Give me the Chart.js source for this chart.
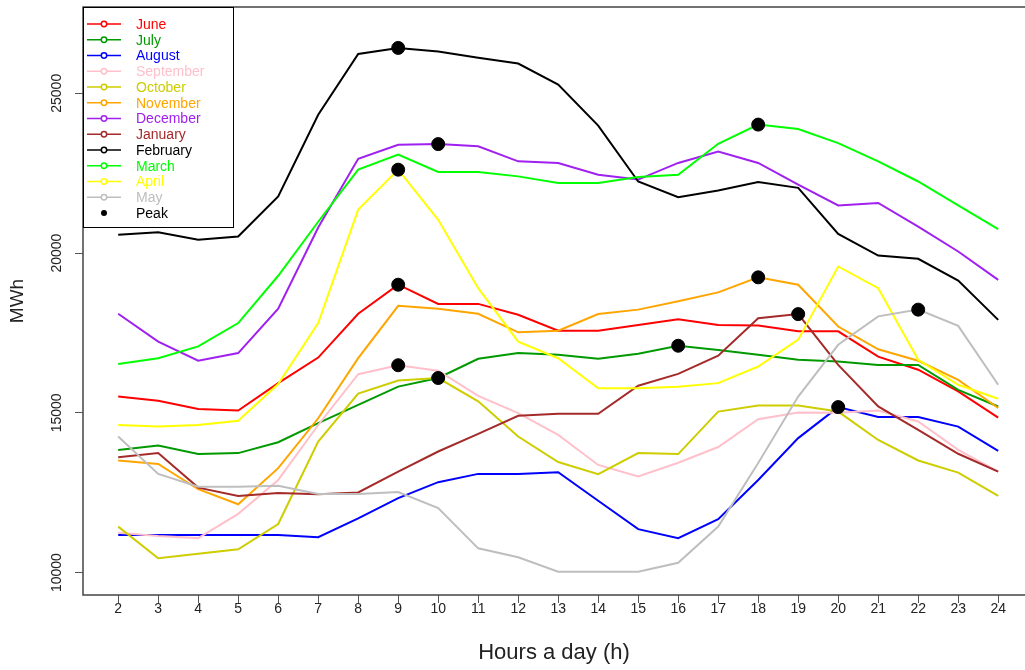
<!DOCTYPE html>
<html>
<head>
<meta charset="utf-8">
<script src="https://cdn.jsdelivr.net/npm/chart.js@4"></script>
<style>
  html, body { margin: 0; padding: 0; background: #fff; }
  #wrap { width: 1025px; height: 670px; }
</style>
</head>
<body>
<div id="wrap"><canvas id="chart"></canvas></div>
<script>
// data (hours 2..24)
const hours = [2, 3, 4, 5, 6, 7, 8, 9, 10, 11, 12, 13, 14, 15, 16, 17, 18, 19, 20, 21, 22, 23, 24];
const yTicks = [10000, 15000, 20000, 25000];

const june = [15510, 15380, 15120, 15070, 15930, 16730, 18100, 19010, 18410, 18410, 18070, 17570, 17570, 17750, 17930, 17750, 17730, 17550, 17550, 16760, 16350, 15670, 14850];
const july = [13840, 13980, 13710, 13740, 14080, 14680, 15250, 15820, 16090, 16690, 16870, 16820, 16690, 16850, 17100, 16970, 16820, 16660, 16610, 16500, 16500, 15720, 15200];
const august = [11180, 11180, 11180, 11180, 11180, 11110, 11700, 12330, 12830, 13090, 13090, 13140, 12250, 11360, 11080, 11670, 12900, 14210, 15180, 14870, 14870, 14570, 13810];
const september = [11250, 11150, 11080, 11840, 12900, 14620, 16210, 16490, 16320, 15530, 14990, 14310, 13370, 13010, 13440, 13930, 14800, 15010, 15000, 15070, 14730, 13840, 13160];
const october = [11440, 10450, 10590, 10730, 11520, 14100, 15600, 16010, 16090, 15360, 14260, 13460, 13080, 13740, 13710, 15040, 15230, 15230, 15040, 14150, 13510, 13130, 12400];
const november = [13510, 13400, 12610, 12140, 13270, 14830, 16710, 18350, 18260, 18100, 17520, 17570, 18090, 18230, 18490, 18770, 19240, 19010, 17700, 16990, 16630, 16030, 15150];
const december = [18100, 17230, 16630, 16870, 18260, 20800, 22950, 23390, 23410, 23340, 22870, 22820, 22450, 22300, 22820, 23180, 22820, 22140, 21490, 21570, 20830, 20050, 19160];
const january = [13610, 13740, 12660, 12400, 12490, 12450, 12510, 13160, 13790, 14340, 14910, 14970, 14970, 15850, 16220, 16790, 17960, 18090, 16500, 15200, 14470, 13720, 13160];
const february = [20570, 20650, 20420, 20520, 21770, 24330, 26230, 26420, 26310, 26110, 25930, 25270, 23990, 22240, 21750, 21960, 22220, 22040, 20600, 19920, 19820, 19140, 17910];
const march = [16530, 16710, 17080, 17810, 19290, 20980, 22610, 23080, 22540, 22540, 22400, 22190, 22190, 22380, 22450, 23420, 24020, 23880, 23440, 22870, 22240, 21490, 20750];
const april = [14620, 14570, 14620, 14750, 15900, 17810, 21360, 22610, 21040, 18900, 17230, 16710, 15770, 15770, 15820, 15930, 16450, 17290, 19580, 18900, 16660, 15880, 15440];
const may = [14260, 13090, 12690, 12690, 12720, 12460, 12460, 12520, 12020, 10760, 10480, 10030, 10030, 10030, 10310, 11440, 13430, 15510, 17130, 18020, 18230, 17720, 15880];

const months = ["June", "July", "August", "September", "October", "November", "December", "January", "February", "March", "April", "May"];
const series = [june, july, august, september, october, november, december, january, february, march, april, may];
const colors = ["#FF0000", "#009A00", "#0000FF", "#FFC0CB", "#CDCD00", "#FFA500", "#A020F0", "#A52A2A", "#000000", "#00FF00", "#FFFF00", "#BEBEBE"];

// peak of each month
const peaks = series.map((s) => {
    const i = s.indexOf(Math.max(...s));
    return { x: hours[i], y: s[i] };
});

const datasets = series.map((s, i) => ({
    label: months[i],
    data: s,
    borderColor: colors[i],
    backgroundColor: colors[i],
    borderWidth: 2,
    pointRadius: 0,
    tension: 0,
    order: 100 - i,
}));

datasets.push({
    label: "Peak",
    type: "scatter",
    data: peaks,
    backgroundColor: "#000",
    borderColor: "#000",
    pointRadius: 6.5,
    order: 0,
});

// legend box + rotated y labels + frame
const extras = {
    id: "extras",
    afterDraw(chart) {
        const ctx = chart.ctx;
        const area = chart.chartArea;
        const ys = chart.scales.y;

        ctx.save();
        // frame
        ctx.strokeStyle = "#444";
        ctx.lineWidth = 1.5;
        ctx.beginPath();
        ctx.moveTo(area.right + 5, area.top);
        ctx.lineTo(area.left, area.top);
        ctx.lineTo(area.left, area.bottom);
        ctx.lineTo(area.right + 5, area.bottom);
        ctx.stroke();

        // y tick labels, rotated like R
        ctx.fillStyle = "#222";
        ctx.font = "14px 'Liberation Sans', Arial, sans-serif";
        ctx.textAlign = "center";
        ctx.textBaseline = "middle";
        yTicks.forEach((v) => {
            const py = ys.getPixelForValue(v);
            ctx.save();
            ctx.translate(57, py);
            ctx.rotate(-Math.PI / 2);
            ctx.fillText(String(v), 0, 0);
            ctx.restore();
        });

        // legend
        const bx = area.left, by = area.top, bw = 150, bh = 220;
        ctx.fillStyle = "#fff";
        ctx.fillRect(bx, by, bw, bh);
        ctx.strokeStyle = "#000";
        ctx.lineWidth = 1;
        ctx.strokeRect(bx + 0.5, by + 0.5, bw, bh);

        ctx.font = "14px 'Liberation Sans', Arial, sans-serif";
        ctx.textAlign = "left";
        const labels = months.concat(["Peak"]);
        labels.forEach((lab, i) => {
            const ry = by + 17 + i * 15.75;
            if (i < months.length) {
                ctx.strokeStyle = colors[i];
                ctx.lineWidth = 1.5;
                ctx.beginPath();
                ctx.moveTo(bx + 4, ry);
                ctx.lineTo(bx + 38, ry);
                ctx.stroke();
                ctx.fillStyle = "#fff";
                ctx.beginPath();
                ctx.arc(bx + 21, ry, 2.7, 0, Math.PI * 2);
                ctx.fill();
                ctx.stroke();
                ctx.fillStyle = colors[i];
            } else {
                ctx.fillStyle = "#000";
                ctx.beginPath();
                ctx.arc(bx + 21, ry, 3, 0, Math.PI * 2);
                ctx.fill();
            }
            ctx.fillText(lab, bx + 53, ry + 1);
        });
        ctx.restore();
    },
};

new Chart(document.getElementById("chart"), {
    type: "line",
    data: {
        labels: hours,
        datasets: datasets,
    },
    options: {
        responsive: true,
        maintainAspectRatio: false,
        animation: false,
        layout: {
            autoPadding: false,
            padding: { top: 7, right: 0, left: 0, bottom: 0 },
        },
        plugins: {
            legend: { display: false },
            tooltip: { enabled: false },
        },
        scales: {
            x: {
                type: "linear",
                min: 1.12,
                max: 24.67,
                afterBuildTicks: (scale) => {
                    scale.ticks = hours.map((h) => ({ value: h }));
                },
                afterFit: (scale) => {
                    scale.height = 75;
                    scale.paddingLeft = 0;
                    scale.paddingRight = 0;
                },
                grid: {
                    display: true,
                    drawOnChartArea: false,
                    drawTicks: true,
                    tickLength: 8,
                    color: "#555",
                },
                border: { display: false },
                ticks: {
                    autoSkip: false,
                    maxRotation: 0,
                    padding: -2,
                    color: "#222",
                    font: { family: "'Liberation Sans Narrow', 'Liberation Sans', Arial", size: 14 },
                    callback: (v) => String(v),
                },
                title: {
                    display: true,
                    text: "Hours a day (h)",
                    color: "#222",
                    font: { family: "'Liberation Sans Narrow', 'Liberation Sans', Arial", size: 22 },
                    padding: { top: 0, bottom: 4 },
                },
            },
            y: {
                min: 9300,
                max: 27700,
                afterBuildTicks: (scale) => {
                    scale.ticks = yTicks.map((v) => ({ value: v }));
                },
                afterFit: (scale) => {
                    scale.width = 83;
                    scale.paddingTop = 0;
                    scale.paddingBottom = 0;
                },
                grid: {
                    display: true,
                    drawOnChartArea: false,
                    drawTicks: true,
                    tickLength: 8,
                    color: "#555",
                },
                border: { display: false },
                ticks: { display: false },
                title: {
                    display: true,
                    text: "MWh",
                    color: "#222",
                    font: { family: "'Liberation Sans', Arial", size: 19 },
                    padding: { top: 6, bottom: 0 },
                },
            },
        },
    },
    plugins: [extras],
});
</script>
</body>
</html>
